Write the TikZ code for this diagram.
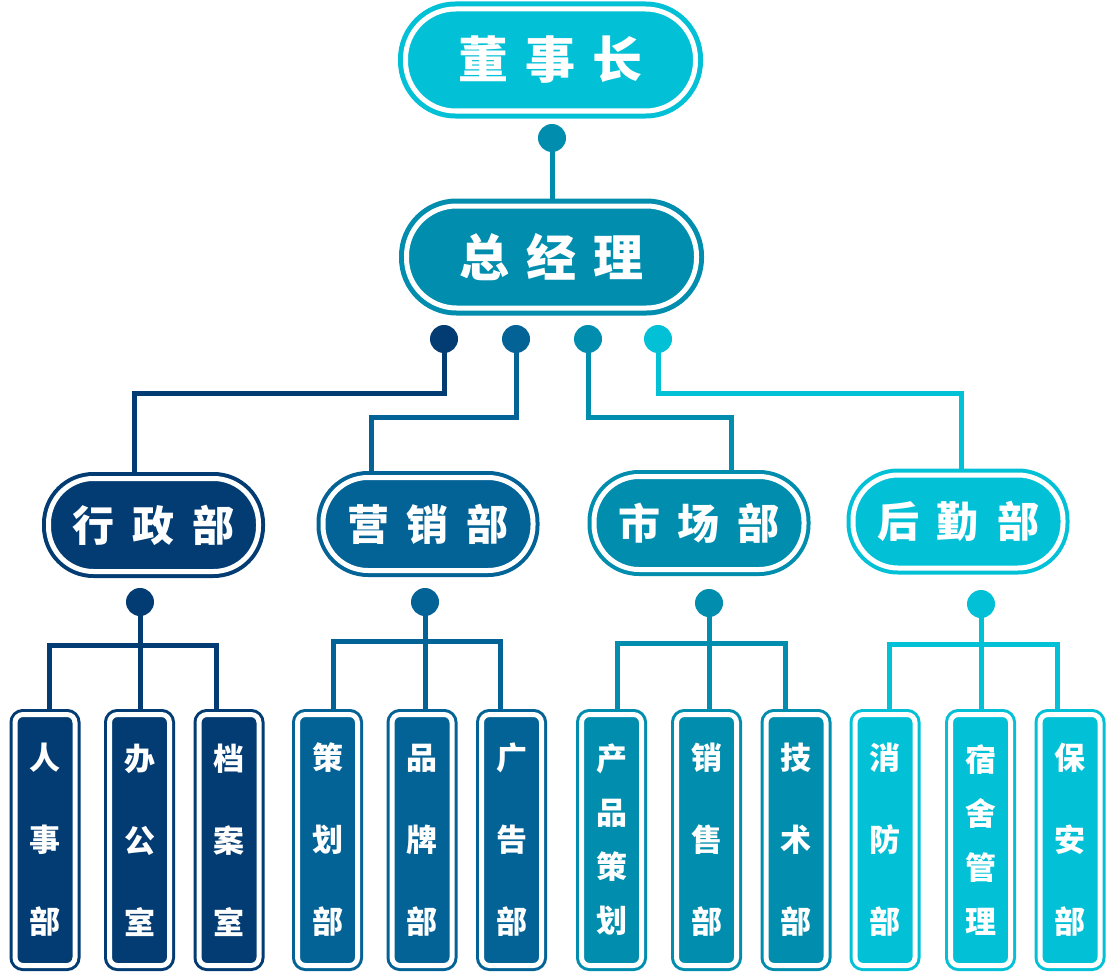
\documentclass[tikz,border=0pt]{standalone}
\usepackage{fontspec}
\newfontfamily\cjk{Noto Sans CJK SC}
\usetikzlibrary{backgrounds}
\definecolor{cnavy}{HTML}{033C73}
\definecolor{cblue}{HTML}{036396}
\definecolor{cteal}{HTML}{018DAD}
\definecolor{ccyan}{HTML}{02C1D6}
\tikzset{
  bigbox/.style={draw=#1, fill=#1, line width=5pt, double=white, double distance=5pt,
    rounded corners=50pt, minimum width=290pt, minimum height=102pt, inner sep=0pt,
    text=white, font=\cjk\bfseries\fontsize{50}{50}\selectfont},
  midbox/.style={draw=#1, fill=#1, line width=4pt, double=white, double distance=5pt,
    rounded corners=45pt, minimum width=210pt, minimum height=93pt, inner sep=0pt,
    text=white, font=\cjk\bfseries\fontsize{42}{42}\selectfont},
  leafbox/.style={draw=#1, fill=#1, line width=3pt, double=white, double distance=5pt,
    rounded corners=8pt, minimum width=60pt, minimum height=251pt, inner sep=0pt,
    text=white, align=center, font=\cjk\bfseries\fontsize{31}{82}\selectfont},
  leaffour/.style={font=\cjk\bfseries\fontsize{31}{54}\selectfont},
  conndot/.style={circle, fill=#1, inner sep=0pt, minimum size=28pt},
  link/.style={draw=#1, line width=5pt, line join=miter},
}
\begin{document}
\begin{tikzpicture}[x=1pt,y=-1pt]
\useasboundingbox (0,0) rectangle (1120,974);
% top
\node[bigbox=ccyan] (ceo) at (550.5,60) {董\hspace{17pt}事\hspace{17pt}长};
\node[bigbox=cteal] (gm) at (551.5,257) {总\hspace{17pt}经\hspace{17pt}理};
\node[conndot=cteal] (d0) at (552,138) {};
\node[conndot=cnavy] (d1) at (444,339) {};
\node[conndot=cblue] (d2) at (516,339) {};
\node[conndot=cteal] (d3) at (588,339) {};
\node[conndot=ccyan] (d4) at (658,339) {};
% level 2
\node[midbox=cnavy] (m1) at (153.5,525) {行\hspace{18pt}政\hspace{18pt}部};
\node[midbox=cblue] (m2) at (428,524) {营\hspace{18pt}销\hspace{18pt}部};
\node[midbox=cteal] (m3) at (699,523) {市\hspace{18pt}场\hspace{18pt}部};
\node[midbox=ccyan] (m4) at (958,521.5) {后\hspace{18pt}勤\hspace{18pt}部};
\node[conndot=cnavy] (e1) at (140,602) {};
\node[conndot=cblue] (e2) at (425,602) {};
\node[conndot=cteal] (e3) at (709,603) {};
\node[conndot=ccyan] (e4) at (981,604) {};
% leaves
\node[leafbox=cnavy] (l11) at (45,840) {人\\事\\部};
\node[leafbox=cnavy] (l12) at (139.5,840) {办\\公\\室};
\node[leafbox=cnavy] (l13) at (229,840) {档\\案\\室};
\node[leafbox=cblue] (l21) at (327.5,840) {策\\划\\部};
\node[leafbox=cblue] (l22) at (422,840) {品\\牌\\部};
\node[leafbox=cblue] (l23) at (511.5,840) {广\\告\\部};
\node[leafbox=cteal,leaffour] (l31) at (611.5,840) {产\\品\\策\\划};
\node[leafbox=cteal] (l32) at (706.5,840) {销\\售\\部};
\node[leafbox=cteal] (l33) at (796,840) {技\\术\\部};
\node[leafbox=ccyan] (l41) at (885,840) {消\\防\\部};
\node[leafbox=ccyan,leaffour] (l42) at (980.5,840) {宿\\舍\\管\\理};
\node[leafbox=ccyan] (l43) at (1070,840) {保\\安\\部};
% connectors
\coordinate (k1) at (134,393);
\coordinate (k2) at (371,417);
\coordinate (k3) at (731,417);
\coordinate (k4) at (961,393);
\coordinate (b1L) at (49,645);  \coordinate (b1R) at (216,645);
\coordinate (b2L) at (333,641); \coordinate (b2R) at (500,641);
\coordinate (b3L) at (617,643); \coordinate (b3R) at (785,643);
\coordinate (b4L) at (889,644); \coordinate (b4R) at (1057,644);
\begin{pgfonlayer}{background}
\draw[link=cteal] (d0.center) -- (d0.center |- gm.north);
\draw[link=cnavy] (d1.center) |- (k1) -- (k1 |- m1.north);
\draw[link=cblue] (d2.center) |- (k2) -- (k2 |- m2.north);
\draw[link=cteal] (d3.center) |- (k3) -- (k3 |- m3.north);
\draw[link=ccyan] (d4.center) |- (k4) -- (k4 |- m4.north);
\draw[link=cnavy] (e1.center) -- (e1.center |- l12.north);
\draw[link=cnavy] (b1L |- l11.north) -- (b1L) -- (b1R) -- (b1R |- l13.north);
\draw[link=cblue] (e2.center) -- (e2.center |- l22.north);
\draw[link=cblue] (b2L |- l21.north) -- (b2L) -- (b2R) -- (b2R |- l23.north);
\draw[link=cteal] (e3.center) -- (e3.center |- l32.north);
\draw[link=cteal] (b3L |- l31.north) -- (b3L) -- (b3R) -- (b3R |- l33.north);
\draw[link=ccyan] (e4.center) -- (e4.center |- l42.north);
\draw[link=ccyan] (b4L |- l41.north) -- (b4L) -- (b4R) -- (b4R |- l43.north);
\end{pgfonlayer}
\end{tikzpicture}
\end{document}
